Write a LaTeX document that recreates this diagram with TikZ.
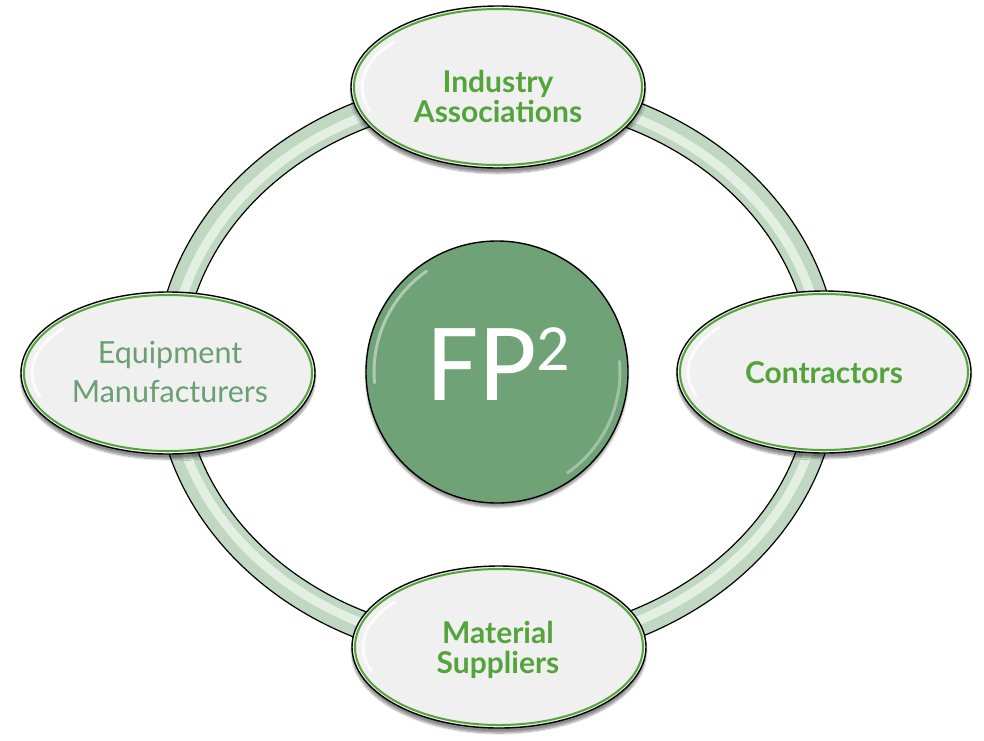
\documentclass[tikz,border=0pt]{standalone}
\usepackage{fontspec}
\setmainfont{Lato}
\newfontfamily\calib{Carlito}
\usetikzlibrary{shapes.geometric,shadows.blur}
\definecolor{lbl}{RGB}{84,164,60}
\definecolor{lblm}{RGB}{106,159,114}
\definecolor{hub}{RGB}{111,162,118}
\definecolor{ringc}{RGB}{192,216,194}
\definecolor{ringl}{RGB}{226,239,226}
\definecolor{oval}{RGB}{240,240,240}
\definecolor{rim}{RGB}{84,164,60}
\begin{document}
\begin{tikzpicture}[x=1pt,y=-1pt,
  member/.style={ellipse, minimum width=294pt, minimum height=162pt, inner sep=0pt,
    fill=oval, draw=black, line width=1.4pt,
    blur shadow={shadow xshift=0pt, shadow yshift=-5pt, shadow opacity=45, shadow blur steps=10}},
  rimline/.style={draw=rim, line width=2pt},
  lab/.style={align=center, text=lbl, font=\bfseries\fontsize{30}{30}\selectfont, inner sep=0pt},
  labm/.style={align=center, text=lblm, font=\fontsize{30.5}{39}\selectfont, inner sep=0pt},
  gloss/.style={draw=white, line width=3pt, opacity=0.75, line cap=round}
]
\useasboundingbox (0,0) rectangle (984,740);
\coordinate (c) at (497,370);
% ring
\draw[ringc, line width=28pt] (c) ellipse [x radius=328, y radius=280];
\draw[ringl, line width=9pt] (c) ellipse [x radius=326, y radius=278];
\draw[black, line width=1.2pt] (c) ellipse [x radius=342, y radius=294];
\draw[black, line width=1.2pt] (c) ellipse [x radius=314, y radius=266];
% members
\node[member] (top) at (498,87) {};
\node[member] (right) at (824,372) {};
\node[member] (bottom) at (499,647) {};
\node[member] (left) at (168,373) {};
\foreach \n in {top,right,bottom,left}{
  \draw[rimline] (\n.center) ellipse [x radius=144, y radius=78];
  \draw[gloss] (\n.center) ++(-127.8,23.9) arc [start angle=-200, end angle=-140, x radius=136, y radius=70];
}
% hub
\node[circle, minimum size=262pt, inner sep=0pt, fill=hub, draw=black, line width=1.4pt,
  blur shadow={shadow xshift=0pt, shadow yshift=-4pt, shadow opacity=40}] (hub) at (497,372) {};
\draw[white, line width=3pt, opacity=0.45, line cap=round] (hub.center) ++(-122.5,10.7) arc [start angle=-185, end angle=-125, radius=123];
\draw[white, line width=3pt, opacity=0.35, line cap=round] (hub.center) ++(122.5,-10.7) arc [start angle=-5, end angle=55, radius=123];
\node[anchor=base, text=white, inner sep=0pt] (fp) at (499,400)
  {\calib\fontsize{112}{112}\selectfont FP\raisebox{30pt}{\fontsize{66}{66}\selectfont 2}};
% labels
\node[lab] (tl) at (498,96) {Industry\\Associations};
\node[lab] (rl) at (824,373) {Contractors};
\node[lab] (bl) at (498,650) {Material\\Suppliers};
\node[labm] (ll) at (170,372) {Equipment\\Manufacturers};
\end{tikzpicture}
\end{document}
